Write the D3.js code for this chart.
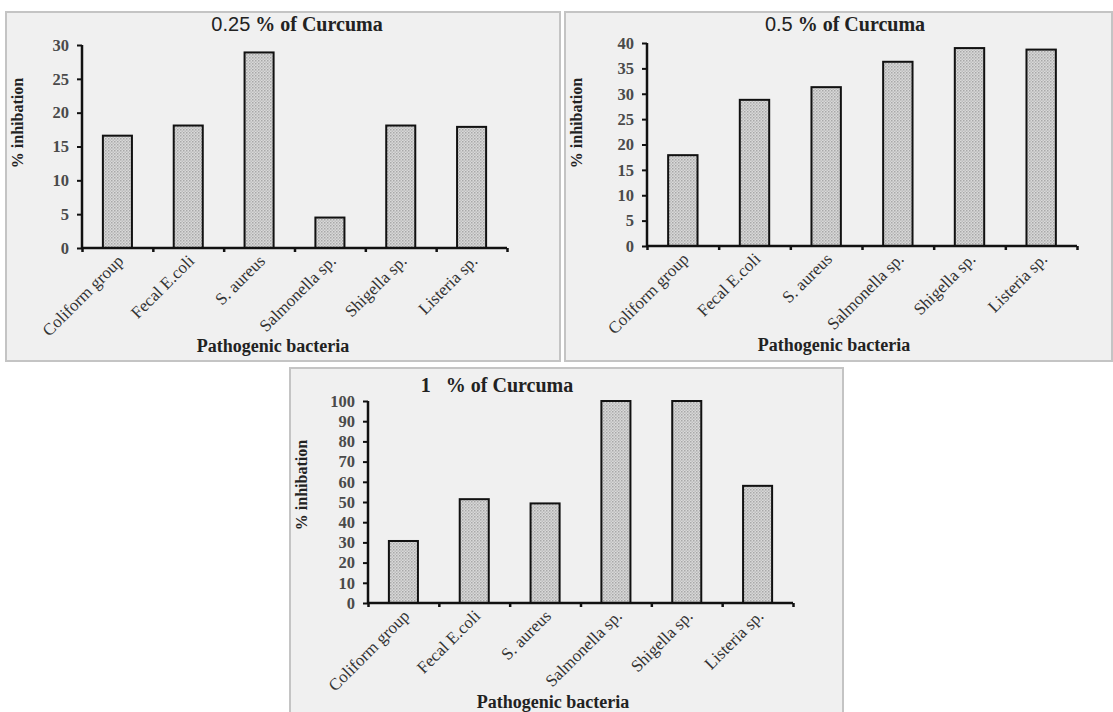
<!DOCTYPE html>
<html><head><meta charset="utf-8">
<script src="https://cdn.jsdelivr.net/npm/d3@7"></script>
<style>body{margin:0;background:#fff}svg{display:block}</style>
</head><body>
<script>
const categories = ["Coliform group","Fecal E.coli","S. aureus","Salmonella sp.","Shigella sp.","Listeria sp."];
const values025 = [16.6, 18.1, 28.9, 4.5, 18.1, 17.9];
const values05 = [17.9, 28.8, 31.3, 36.3, 39.0, 38.7];
const values1 = [30.7, 51.4, 49.3, 100, 100, 58.0];
const ticks025 = [0,5,10,15,20,25,30];
const ticks05 = [0,5,10,15,20,25,30,35,40];
const ticks1 = [0,10,20,30,40,50,60,70,80,90,100];
const titles = ["% of Curcuma"];
const yLabel = "% inhibation";
const xLabel = "Pathogenic bacteria";

const W = 1113, H = 712;
const svg = d3.select("body").append("svg").attr("width", W).attr("height", H);
const defs = svg.append("defs");
const pat = defs.append("pattern").attr("id","dots").attr("patternUnits","userSpaceOnUse").attr("width",3).attr("height",3);
pat.append("rect").attr("width",3).attr("height",3).attr("fill","#d9d9d9");
pat.append("rect").attr("width",1.5).attr("height",1.5).attr("fill","#a8a8a8");
pat.append("rect").attr("x",1.5).attr("y",1.5).attr("width",1.5).attr("height",1.5).attr("fill","#bdbdbd");

const serif = "'Liberation Serif','Times New Roman',serif";

const panels = [
  {box:[6,12,554,349], ox:82, oy:248, ax:425, ay:203, max:30, ticks:ticks025, vals:values025,
   tNum:"0.25", tSep:" ", tx:297, ty:31, ylx:23, yly:123, xtx:273, xty:352},
  {box:[565,12,547,349], ox:647, oy:246, ax:430, ay:203, max:40, ticks:ticks05, vals:values05,
   tNum:"0.5", tSep:" ", tx:845, ty:31, ylx:582, yly:123, xtx:834, xty:351},
  {box:[290,368,553,350], ox:368, oy:603, ax:425, ay:202, max:100, ticks:ticks1, vals:values1,
   tNum:"1", tSep:"\u00a0\u00a0\u00a0", tx:497, ty:392, ylx:307, yly:485, xtx:553, xty:708}
];

panels.forEach(p => {
  const g = svg.append("g");
  g.append("rect").attr("x",p.box[0]).attr("y",p.box[1]).attr("width",p.box[2]).attr("height",p.box[3])
    .attr("fill","#f0f0f0").attr("stroke","#c4c4c4").attr("stroke-width",2);
  const x = d3.scaleBand().domain(categories).range([p.ox, p.ox+p.ax]).paddingInner(0.59).paddingOuter(0.295);
  const y = d3.scaleLinear().domain([0,p.max]).range([p.oy, p.oy-p.ay]);
  g.selectAll("rect.bar").data(p.vals).join("rect").attr("class","bar")
    .attr("x",(d,i)=>x(categories[i])).attr("y",d=>y(d))
    .attr("width",x.bandwidth()).attr("height",d=>y(0)-y(d))
    .attr("fill","url(#dots)").attr("stroke","#111").attr("stroke-width",2);
  // y axis
  const ya = g.append("g").attr("transform",`translate(${p.ox},0)`)
    .call(d3.axisLeft(y).tickValues(p.ticks).tickSize(5).tickPadding(8).tickFormat(d3.format("d")));
  ya.select(".domain").attr("stroke","#111").attr("stroke-width",2.5).attr("d",`M0,${y(0)}V${y(p.max)}`);
  ya.selectAll(".tick line").attr("stroke","#111").attr("stroke-width",2);
  ya.selectAll(".tick text").attr("font-family",serif).attr("font-size",16.5).attr("font-weight","bold").attr("fill","#4a4a4a");
  // x axis
  const xb = d3.scaleLinear().domain([0,6]).range([p.ox,p.ox+p.ax]);
  const xa = g.append("g").attr("transform",`translate(0,${p.oy})`)
    .call(d3.axisBottom(xb).tickValues([0,1,2,3,4,5,6]).tickSize(4).tickFormat(""));
  xa.select(".domain").attr("stroke","#111").attr("stroke-width",2.5).attr("d",`M${p.ox},0H${p.ox+p.ax}`);
  xa.selectAll(".tick line").attr("stroke","#111").attr("stroke-width",2.5);
  // category labels
  g.selectAll("text.cat").data(categories).join("text").attr("class","cat")
    .attr("transform",d=>`translate(${x(d)+x.bandwidth()/2+7},${p.oy+14}) rotate(-45)`)
    .attr("text-anchor","end").attr("font-family",serif).attr("font-size",17).attr("fill","#333")
    .text(d=>d);
  // title
  const t = g.append("text").attr("x",p.tx).attr("y",p.ty).attr("text-anchor","middle")
    .attr("font-size",20).attr("fill","#222");
  t.append("tspan").attr("font-weight", p.tNum==="1"?"bold":"normal")
    .attr("font-family", p.tNum==="1"? serif : "'Liberation Sans',Arial,sans-serif").text(p.tNum);
  t.append("tspan").attr("font-family",serif).attr("font-weight","bold").text(p.tSep + titles[0]);
  // y label
  g.append("text").attr("transform",`translate(${p.ylx},${p.yly}) rotate(-90)`).attr("text-anchor","middle")
    .attr("font-family",serif).attr("font-weight","bold").attr("font-size",16).attr("fill","#222").text(yLabel);
  // x title
  g.append("text").attr("x",p.xtx).attr("y",p.xty).attr("text-anchor","middle")
    .attr("font-family",serif).attr("font-weight","bold").attr("font-size",18).attr("fill","#222").text(xLabel);
});
</script>
</body></html>
